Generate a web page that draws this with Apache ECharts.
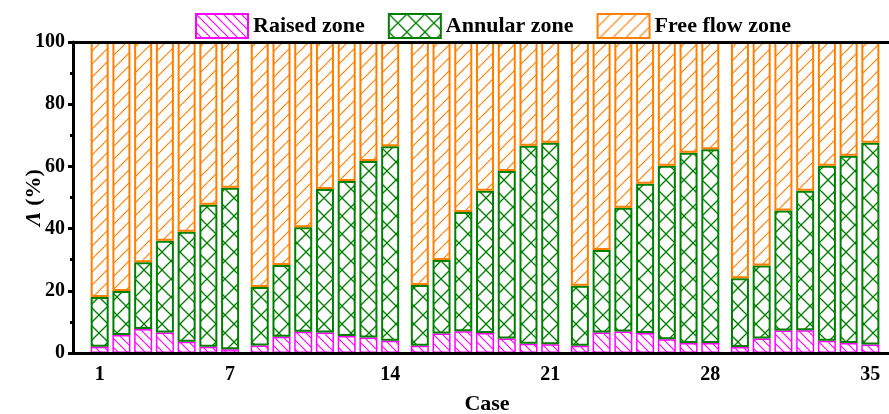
<!DOCTYPE html>
<html><head><meta charset="utf-8">
<script src="https://cdn.jsdelivr.net/npm/echarts@6/dist/echarts.min.js"></script>
<style>html,body{margin:0;padding:0;background:#fff}#c{width:889px;height:414px}</style>
</head><body><div id="c"></div>
<script>
// ---- data ----
const cases = [1,2,3,4,5,6,7,8,9,10,11,12,13,14,15,16,17,18,19,20,21,22,23,24,25,26,27,28,29,30,31,32,33,34,35];
const tickCases = [1,7,14,21,28,35];
const raised  = [2.0,5.8,7.7,6.6,3.6,2.0,1.2, 2.4,5.2,6.8,6.6,5.5,5.0,3.9, 2.3,6.3,7.0,6.4,4.7,3.0,2.8, 2.3,6.6,6.9,6.4,4.4,3.2,3.2, 1.9,4.7,7.2,7.3,3.9,3.2,2.7];
const annular = [16.0,14.1,21.5,29.5,35.4,45.7,51.9, 18.8,23.1,33.6,46.1,49.8,56.7,62.6, 19.6,23.6,38.3,45.8,53.8,63.6,64.8, 19.3,26.5,39.8,48.0,55.8,61.2,62.3, 22.1,23.4,38.6,44.9,56.3,60.2,64.9];
const free    = [82.0,80.1,70.8,63.9,61.0,52.3,46.9, 78.8,71.7,59.6,47.3,44.7,38.3,33.5, 78.1,70.1,54.7,47.8,41.5,33.4,32.4, 78.4,66.9,53.3,45.6,39.8,35.6,34.5, 76.0,71.9,54.2,47.8,39.8,36.6,32.4];
const seriesNames = ['Raised zone','Annular zone','Free flow zone'];

// ---- layout: fine category slots so groups of 7 get a small gap ----
const SLOTS_PER_CASE = 11, GROUP_EXTRA = 4, GROUP_SIZE = 7, LEAD = 13, TOTAL_SLOTS = 419;
function slotOf(c){ return LEAD + (c-1)*SLOTS_PER_CASE + GROUP_EXTRA*Math.floor((c-1)/GROUP_SIZE); }
const slotCase = {};
cases.forEach(c => { slotCase[slotOf(c)] = c; });
const slotNames = [];
for (let k = 0; k < TOTAL_SLOTS; k++) slotNames.push(slotCase[k] !== undefined ? String(slotCase[k]) : '_' + k);

function hatch(color, p, dirs, lw){
  const cv = document.createElement('canvas'); cv.width = p; cv.height = p;
  const g = cv.getContext('2d');
  g.fillStyle = '#fff'; g.fillRect(0,0,p,p);
  g.strokeStyle = color; g.lineWidth = lw;
  for (const d of dirs){
    for (const x0 of [-p,0,p]){
      g.beginPath();
      if (d === '/') { g.moveTo(x0, p); g.lineTo(x0+p, 0); }
      else { g.moveTo(x0, 0); g.lineTo(x0+p, p); }
      g.stroke();
    }
  }
  return {image: cv, repeat: 'repeat'};
}
const FONT = 'Liberation Serif';
const colors = ['#ff00ff','#008000','#ff8000'];
const fills = [hatch(colors[0], 9, ['\\'], 1.2), hatch(colors[1], 18, ['/','\\'], 1.3), hatch(colors[2], 13, ['/'], 1.2)];
const borders = [1.5, 2, 2];
const values = [raised, annular, free];

function seriesData(arr){
  const out = new Array(TOTAL_SLOTS).fill('-');
  cases.forEach((c, i) => { out[slotOf(c)] = arr[i]; });
  return out;
}
const isTick = (index) => slotCase[index] !== undefined && tickCases.includes(slotCase[index]);

const chart = echarts.init(document.getElementById('c'), null, {renderer:'canvas'});
chart.setOption({
  animation: false,
  legend: {
    left: 190, top: 8, itemWidth: 52, itemHeight: 24, itemGap: 23,
    icon: 'rect',
    textStyle: {fontFamily: FONT, fontWeight: 'bold', fontSize: 22, color: '#000'},
    data: seriesNames
  },
  grid: {left: 73, right: -12, top: 42, bottom: 61, containLabel: false, outerBoundsMode: 'none'},
  xAxis: [{
    type: 'category', data: slotNames, boundaryGap: true, z: 10,
    name: 'Case', nameLocation: 'middle', nameGap: 40, nameMoveOverlap: false,
    nameTextStyle: {fontFamily: FONT, fontWeight: 'bold', fontSize: 22, color: '#000'},
    axisLine: {show: true, lineStyle: {color: '#000', width: 3}},
    axisTick: {show: false},
    splitLine: {show: false},
    axisLabel: {
      interval: (index) => isTick(index),
      formatter: (v, index) => isTick(index) ? v : '',
      margin: 12, fontFamily: FONT, fontWeight: 'bold', fontSize: 20, color: '#000'
    }
  },{
    type: 'category', data: slotNames, position: 'top', z: 10,
    axisLine: {show: true, lineStyle: {color: '#000', width: 3}},
    axisTick: {show: false}, axisLabel: {show: false}, splitLine: {show: false}
  }],
  yAxis: {
    type: 'value', min: 0, max: 100, interval: 20, z: 10,
    name: '{i|Λ} (%)', nameLocation: 'middle', nameGap: 28, nameMoveOverlap: false,
    nameTextStyle: {fontFamily: FONT, fontWeight: 'bold', fontSize: 22, color: '#000',
      rich: {i: {fontFamily: FONT, fontWeight: 'bold', fontStyle: 'italic', fontSize: 22, color: '#000'}}},
    axisLine: {show: true, lineStyle: {color: '#000', width: 3}},
    axisTick: {show: true, inside: false, length: 5, lineStyle: {color: '#000', width: 3}},
    minorTick: {show: true, splitNumber: 2, length: 3, lineStyle: {color: '#000', width: 3}},
    splitLine: {show: false},
    axisLabel: {margin: 8, fontFamily: FONT, fontWeight: 'bold', fontSize: 20, color: '#000'}
  },
  series: seriesNames.map((n, k) => ({
    name: n, type: 'bar', stack: 'total', barWidth: 18, xAxisIndex: 0,
    itemStyle: {color: fills[k], borderColor: colors[k], borderWidth: borders[k]},
    data: seriesData(values[k])
  }))
});
</script></body></html>
